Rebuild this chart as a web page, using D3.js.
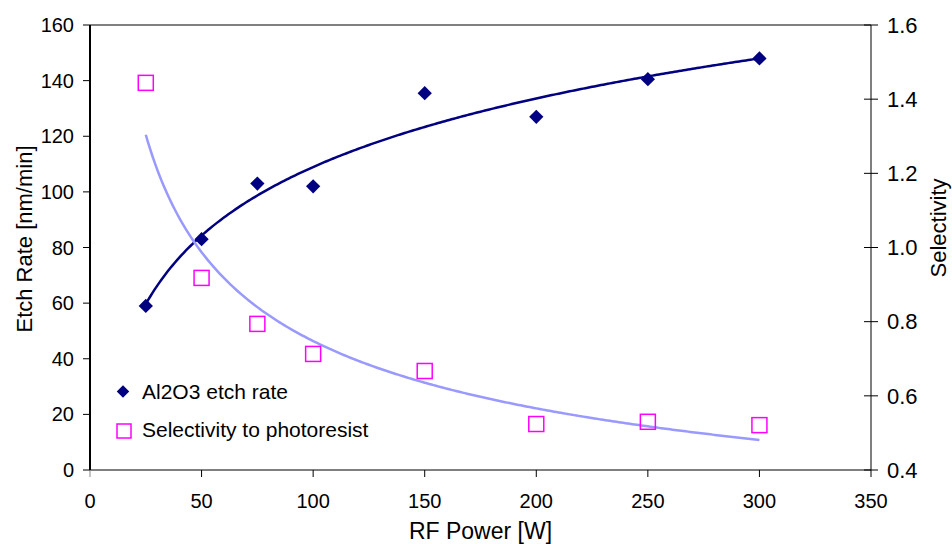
<!DOCTYPE html>
<html>
<head>
<meta charset="UTF-8">
<title>Etch Rate vs RF Power</title>
<script src="https://d3js.org/d3.v7.min.js"></script>
<style>
    body { margin: 0; background: #fff; font-family: "Liberation Sans", Arial, sans-serif; }
    text { font-family: "Liberation Sans", Arial, sans-serif; fill: #000; }
</style>
</head>
<body>
<div id="chart"></div>
<script>
    // data
    var power = [25, 50, 75, 100, 150, 200, 250, 300];
    var etchRate = [59, 83, 103, 102, 135.5, 127, 140.5, 148];
    var selectivity = [1.444, 0.918, 0.794, 0.713, 0.667, 0.524, 0.53, 0.521];

    var xTicks = [0, 50, 100, 150, 200, 250, 300, 350];
    var yTicks = [0, 20, 40, 60, 80, 100, 120, 140, 160];
    var y2Ticks = [0.4, 0.6, 0.8, 1.0, 1.2, 1.4, 1.6];

    var W = 952, H = 544;
    var margin = {top: 25, right: 81, bottom: 74, left: 90};
    var width = W - margin.left - margin.right,
        height = H - margin.top - margin.bottom;

    var svg = d3.select("#chart").append("svg")
        .attr("width", W).attr("height", H);
    var g = svg.append("g")
        .attr("transform", "translate(" + margin.left + "," + margin.top + ")");

    var x = d3.scaleLinear().domain([0, 350]).range([0, width]);
    var y = d3.scaleLinear().domain([0, 160]).range([height, 0]);
    var y2 = d3.scaleLinear().domain([0.4, 1.6]).range([height, 0]);

    // least squares fits, like the spreadsheet trendlines
    function linFit(xs, ys) {
        var n = xs.length, mx = d3.mean(xs), my = d3.mean(ys);
        var sxy = 0, sxx = 0;
        for (var i = 0; i < n; i++) {
            sxy += (xs[i] - mx) * (ys[i] - my);
            sxx += (xs[i] - mx) * (xs[i] - mx);
        }
        var b = sxy / sxx;
        return {a: my - b * mx, b: b};
    }
    var lnP = power.map(Math.log);
    var logFit = linFit(lnP, etchRate);                          // y = a + b ln x
    var powFit = linFit(lnP, selectivity.map(Math.log));         // ln y = a + b ln x

    var xs = d3.range(25, 300.01, 1);
    var etchTrend = xs.map(function(v) { return [v, logFit.a + logFit.b * Math.log(v)]; });
    var selTrend = xs.map(function(v) { return [v, Math.exp(powFit.a) * Math.pow(v, powFit.b)]; });

    // frame
    g.append("line").attr("x1", 0).attr("x2", width).attr("y1", 0).attr("y2", 0)
        .attr("stroke", "#000").attr("stroke-width", 1);

    // bottom axis
    var xAxis = g.append("g").attr("transform", "translate(0," + height + ")");
    xAxis.append("line").attr("x1", 0).attr("x2", width).attr("stroke", "#000");
    xAxis.selectAll(".tk").data(xTicks).enter().append("line")
        .attr("x1", function(d) { return x(d); }).attr("x2", function(d) { return x(d); })
        .attr("y1", 0).attr("y2", 7).attr("stroke", function(d) { return d === 0 ? "#888" : "#000"; });
    xAxis.selectAll(".lb").data(xTicks).enter().append("text")
        .attr("x", function(d) { return x(d); }).attr("y", 38)
        .attr("text-anchor", "middle").style("font-size", "20px")
        .text(function(d) { return d; });

    // left axis
    var yAxis = g.append("g");
    yAxis.append("line").attr("y1", 0).attr("y2", height)
        .attr("stroke", "#000").attr("stroke-width", 2);
    yAxis.selectAll(".tk").data(yTicks).enter().append("line")
        .attr("x1", -7).attr("x2", 0)
        .attr("y1", function(d) { return y(d); }).attr("y2", function(d) { return y(d); })
        .attr("stroke", "#000");
    yAxis.selectAll(".lb").data(yTicks).enter().append("text")
        .attr("x", -16).attr("y", function(d) { return y(d); })
        .attr("dy", "0.35em").attr("text-anchor", "end").style("font-size", "20px")
        .text(function(d) { return d; });

    // right axis
    var y2Axis = g.append("g").attr("transform", "translate(" + width + ",0)");
    y2Axis.append("line").attr("y1", 0).attr("y2", height).attr("stroke", "#000");
    y2Axis.selectAll(".tk").data(y2Ticks).enter().append("line")
        .attr("x1", -7).attr("x2", 7)
        .attr("y1", function(d) { return y2(d); }).attr("y2", function(d) { return y2(d); })
        .attr("stroke", "#000");
    y2Axis.selectAll(".lb").data(y2Ticks).enter().append("text")
        .attr("x", 16).attr("y", function(d) { return y2(d); })
        .attr("dy", "0.35em").style("font-size", "22px")
        .text(function(d) { return d.toFixed(1); });

    // axis titles
    svg.append("text").attr("x", margin.left + x(175)).attr("y", 539)
        .attr("text-anchor", "middle").style("font-size", "23px").text("RF Power [W]");
    svg.append("text").attr("transform", "translate(32,239) rotate(-90)")
        .attr("text-anchor", "middle").style("font-size", "22px").text("Etch Rate [nm/min]");
    svg.append("text").attr("transform", "translate(946,228) rotate(-90)")
        .attr("text-anchor", "middle").style("font-size", "22px").text("Selectivity");

    // trendlines
    var line1 = d3.line().x(function(d) { return x(d[0]); }).y(function(d) { return y(d[1]); });
    var line2 = d3.line().x(function(d) { return x(d[0]); }).y(function(d) { return y2(d[1]); });
    g.append("path").datum(etchTrend).attr("d", line1)
        .attr("fill", "none").attr("stroke", "#000080").attr("stroke-width", 2.5);
    g.append("path").datum(selTrend).attr("d", line2)
        .attr("fill", "none").attr("stroke", "#9999ff").attr("stroke-width", 2.5);

    // markers
    var diamond = d3.symbol().type(d3.symbolDiamond2).size(130);
    g.selectAll(".etch").data(power).enter().append("path")
        .attr("transform", function(d, i) { return "translate(" + x(d) + "," + y(etchRate[i]) + ")"; })
        .attr("d", diamond).attr("fill", "#000080");

    g.selectAll(".sel").data(power).enter().append("rect")
        .attr("x", function(d) { return x(d) - 7.5; })
        .attr("y", function(d, i) { return y2(selectivity[i]) - 7.5; })
        .attr("width", 15).attr("height", 15)
        .attr("fill", "none").attr("stroke", "#ff00ff").attr("stroke-width", 1.5);

    // legend
    var leg = svg.append("g").attr("transform", "translate(123,391.5)");
    leg.append("path").attr("d", d3.symbol().type(d3.symbolDiamond2).size(100))
        .attr("fill", "#000080");
    leg.append("text").attr("x", 19).attr("y", 7)
        .style("font-size", "21px").text("Al2O3 etch rate");
    leg.append("rect").attr("x", -6).attr("y", 32.5).attr("width", 14).attr("height", 14)
        .attr("fill", "none").attr("stroke", "#ff00ff").attr("stroke-width", 1.5);
    leg.append("text").attr("x", 19).attr("y", 45.5)
        .style("font-size", "21px").text("Selectivity to photoresist");
</script>
</body>
</html>
